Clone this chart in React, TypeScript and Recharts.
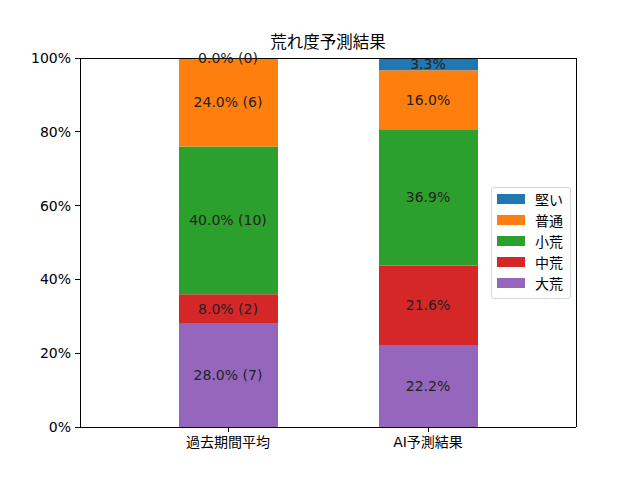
import React from "react";
import { Bar, BarChart, CartesianGrid, ReferenceDot, XAxis, YAxis } from "recharts";

const categories = ["過去期間平均", "AI予測結果"];
const seriesNames = ["大荒", "中荒", "小荒", "普通", "堅い"];
const seriesColors = ["#9467bd", "#d62728", "#2ca02c", "#ff7f0e", "#1f77b4"];
const daiAre = [28.0, 22.2];
const chuAre = [8.0, 21.6];
const shoAre = [40.0, 36.9];
const futsu = [24.0, 16.0];
const katai = [0.0, 3.3];
// race counts are only known for the historical column
const pastCounts = [7, 2, 10, 6, 0];
const yTicks = [0, 20, 40, 60, 80, 100];

const FONT = "'DejaVu Sans', 'Noto Sans CJK JP', sans-serif";
const seriesValues = [daiAre, chuAre, shoAre, futsu, katai];
const data = categories.map((name, i) => {
  const row: Record<string, string | number> = { name };
  seriesNames.forEach((s, k) => {
    row[s] = seriesValues[k][i];
  });
  return row;
});

// one label per segment, placed at the middle of its stacked span
const segmentLabels = categories.flatMap((name, i) => {
  let base = 0;
  return seriesNames.map((s, k) => {
    const v = seriesValues[k][i];
    const mid = base + v / 2;
    base += v;
    const text = i === 0 ? `${v.toFixed(1)}% (${pastCounts[k]})` : `${v.toFixed(1)}%`;
    return { key: `${name}-${s}`, name, mid, text };
  });
});

function LegendBox() {
  const order = [...seriesNames].reverse();
  const colors = [...seriesColors].reverse();
  return (
    <div
      style={{
        position: "absolute",
        left: 491,
        top: 187,
        width: 78,
        padding: "0 0 4px 0",
        border: "1px solid #d6d6d6",
        borderRadius: 3,
        background: "rgba(255,255,255,0.8)",
        fontFamily: FONT,
        fontSize: 14,
      }}
    >
      {order.map((s, i) => (
        <div key={s} style={{ display: "flex", alignItems: "center", height: 21.2 }}>
          <span style={{ display: "inline-block", width: 28, height: 10, background: colors[i], marginLeft: 5, marginRight: 10 }} />
          <span>{s}</span>
        </div>
      ))}
    </div>
  );
}

const crisp = { stroke: "#000", shapeRendering: "crispEdges" } as any;

export default function App() {
  return (
    <div style={{ position: "absolute", left: 0, top: 0, width: 640, height: 480, background: "#fff" }}>
      <div
        style={{
          position: "absolute",
          left: 80,
          width: 496,
          top: 32,
          lineHeight: "22px",
          textAlign: "center",
          fontFamily: FONT,
          fontSize: 16.5,
        }}
      >
        荒れ度予測結果
      </div>
      <BarChart width={640} height={480} data={data} margin={{ top: 57, right: 63, bottom: 0, left: 0 }} barSize={99}>
        <CartesianGrid vertical={false} stroke="#b0b0b0" strokeWidth={1} shapeRendering="crispEdges" />
        <XAxis
          dataKey="name"
          xAxisId="b"
          height={53}
          padding={{ left: 48, right: 48 }}
          axisLine={crisp}
          tickLine={crisp}
          tick={{ fill: "#000", fontSize: 14, fontFamily: FONT }}
          tickSize={5}
          tickMargin={5}
        />
        <XAxis
          dataKey="name"
          xAxisId="t"
          orientation="top"
          height={1}
          padding={{ left: 48, right: 48 }}
          tick={false}
          tickLine={false}
          axisLine={crisp}
        />
        <YAxis
          yAxisId="l"
          width={80}
          domain={[0, 100]}
          ticks={yTicks}
          tickFormatter={(v) => `${v}%`}
          axisLine={crisp}
          tickLine={crisp}
          tick={{ fill: "#000", fontSize: 14, fontFamily: FONT }}
          tickSize={5}
          tickMargin={4}
        />
        <YAxis
          yAxisId="r"
          orientation="right"
          width={1}
          domain={[0, 100]}
          ticks={yTicks}
          tick={false}
          tickLine={false}
          axisLine={crisp}
        />
        {seriesNames.map((s, k) => (
          <Bar key={s} dataKey={s} stackId="a" xAxisId="b" yAxisId="l" fill={seriesColors[k]} isAnimationActive={false} />
        ))}
        {segmentLabels.map((l) => (
          <ReferenceDot
            key={l.key}
            x={l.name}
            y={l.mid}
            xAxisId="b"
            yAxisId="l"
            r={0}
            fill="none"
            stroke="none"
            ifOverflow="visible"
            label={{ value: l.text, position: "center", fill: "#222", fontSize: 14, fontFamily: FONT }}
          />
        ))}
      </BarChart>
      <LegendBox />
    </div>
  );
}
